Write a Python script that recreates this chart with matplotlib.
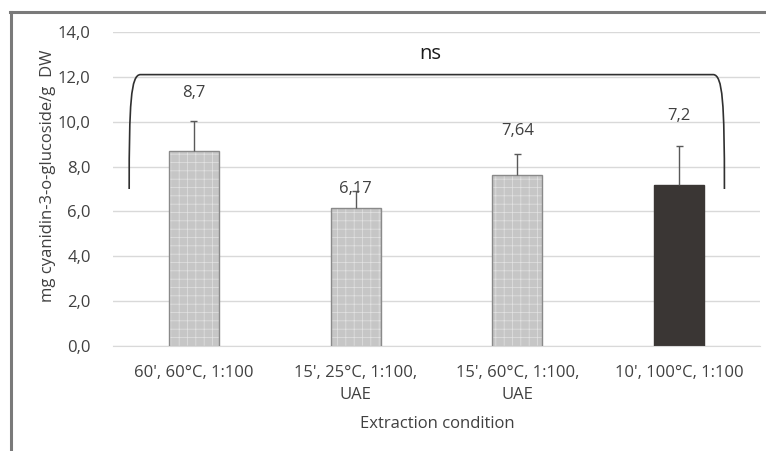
import matplotlib
matplotlib.use("Agg")
import matplotlib.pyplot as plt
from matplotlib.path import Path
from matplotlib.patches import PathPatch
from matplotlib.lines import Line2D

plt.rcParams['font.family'] = ['Open Sans', 'DejaVu Sans']
plt.rcParams['hatch.linewidth'] = 0.5

# Data
categories = ["60', 60°C, 1:100", "15', 25°C, 1:100,\nUAE", "15', 60°C, 1:100,\nUAE", "10', 100°C, 1:100"]
means = [8.7, 6.17, 7.64, 7.2]
errors = [1.33, 0.75, 0.93, 1.7]
value_labels = ["8,7", "6,17", "7,64", "7,2"]
label_heights = [11.3, 7.0, 9.6, 10.27]
yticks = [0, 2, 4, 6, 8, 10, 12, 14]
ytick_labels = ["0,0", "2,0", "4,0", "6,0", "8,0", "10,0", "12,0", "14,0"]

text_col = '#404040'
fs = 12
W, H = 766, 451
fig = plt.figure(figsize=(W / 100, H / 100), dpi=100)
ax = fig.add_axes([113 / W, 1 - 346 / H, (760 - 113) / W, (346 - 32) / H])

x = list(range(len(categories)))
bw = 0.31
light, dark = '#c6c6c6', '#3a3634'
# light bars: gray fill with fine white stipple
ax.bar(x[:3], means[:3], width=bw, color=light, edgecolor='#e2e2e2',
       hatch='++', linewidth=0, zorder=2)
ax.bar(x[3:], means[3:], width=bw, color=dark, linewidth=0, zorder=2)
ax.bar(x, means, width=bw, fill=False, edgecolor=['#8a8a8a'] * 3 + [dark],
       linewidth=1.0, zorder=3)

# upper error bars only
tops = [m + e for m, e in zip(means, errors)]
cap = 0.022
ax.vlines(x, means, tops, color='#595959', linewidth=1.0, zorder=4)
ax.hlines(tops, [xi - cap for xi in x], [xi + cap for xi in x],
          color='#595959', linewidth=1.0, zorder=4)

for xi, lab, hy in zip(x, value_labels, label_heights):
    ax.text(xi, hy, lab, ha='center', va='center', fontsize=fs, color=text_col, zorder=5)

# significance bracket
verts = [(-0.40, 7.0), (-0.40, 10.8), (-0.39, 12.1), (-0.33, 12.1),
         (3.21, 12.1),
         (3.27, 12.1), (3.28, 10.8), (3.28, 7.0)]
codes = [Path.MOVETO, Path.CURVE4, Path.CURVE4, Path.CURVE4,
         Path.LINETO,
         Path.CURVE4, Path.CURVE4, Path.CURVE4]
ax.add_patch(PathPatch(Path(verts, codes), fill=False, edgecolor='#303030',
                       linewidth=1.2, zorder=5, clip_on=False))
ax.text(1.46, 13.0, 'ns', ha='center', va='center', fontsize=14.5, color='#1a1a1a')

ax.set_xlim(-0.5, 3.5)
ax.set_ylim(0, 14)
ax.set_yticks(yticks)
ax.set_yticklabels(ytick_labels)
ax.set_xticks(x)
ax.set_xticklabels(categories, linespacing=1.45, va='top')
ax.tick_params(axis='both', length=0, labelsize=fs, labelcolor=text_col)
ax.tick_params(axis='y', pad=16)
ax.tick_params(axis='x', pad=14)
ax.grid(axis='y', color='#d9d9d9', linewidth=1.0, zorder=0)
ax.set_axisbelow(True)
for s in ['top', 'right', 'left']:
    ax.spines[s].set_visible(False)
ax.spines['bottom'].set_color('#d9d9d9')

fig.text(48 / W, 1 - 176 / H, 'mg cyanidin-3-o-glucoside/g  DW', rotation=90,
         ha='center', va='center', fontsize=fs, color=text_col)
fig.text(437 / W, 1 - 424 / H, 'Extraction condition', ha='center', va='center',
         fontsize=fs, color=text_col)

# outer chart frame
fig.add_artist(Line2D([11 / W, 11 / W], [0, 1 - 12 / H], transform=fig.transFigure,
                      color='#7a7a7a', linewidth=2.2))
fig.add_artist(Line2D([10 / W, 1], [1 - 12 / H, 1 - 12 / H], transform=fig.transFigure,
                      color='#7a7a7a', linewidth=2.2))

fig.savefig('out.png', dpi=100)
